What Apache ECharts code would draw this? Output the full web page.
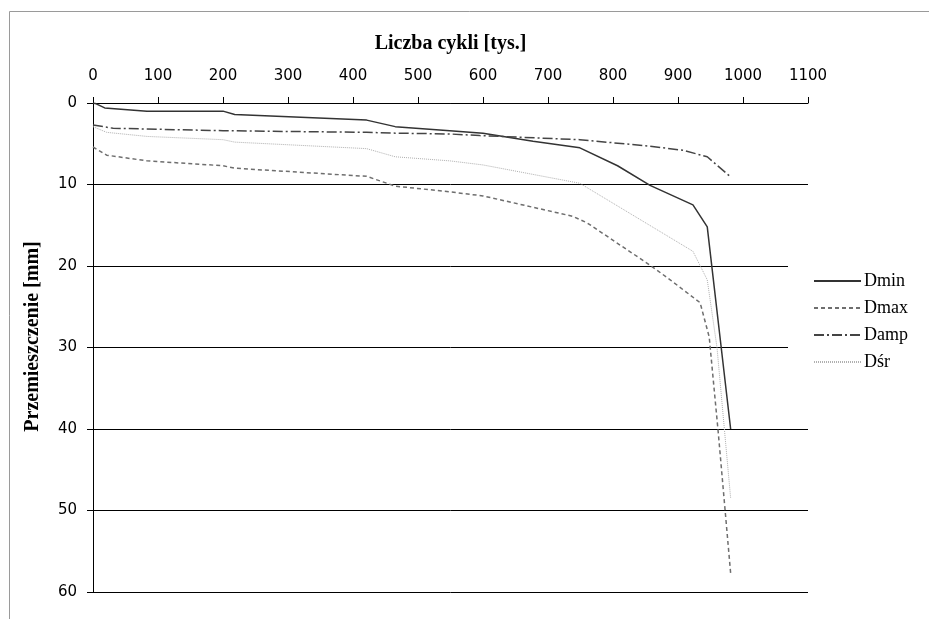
<!DOCTYPE html>
<html>
<head>
    <meta charset="utf-8">
    <title>Przemieszczenie</title>
    <script src="https://cdn.jsdelivr.net/npm/echarts@6/dist/echarts.min.js"></script>
</head>
<body style="margin:0;background:#fff;">
<div id="main" style="width: 929px;height:619px;"></div>
<script type="text/javascript">
    // dane (x w tys. cykli, y w mm)
    const dminX = [0, 5, 18, 83, 200, 218, 421, 465, 549, 600, 677, 749, 807, 857, 868, 923, 945, 981];
    const dminY = [0, 0.1, 0.6, 1.0, 1.0, 1.4, 2.1, 2.9, 3.4, 3.7, 4.7, 5.5, 7.7, 10.1, 10.5, 12.5, 15.2, 40.0];

    const dmaxX = [0, 21, 83, 200, 218, 421, 465, 549, 600, 738, 760, 857, 888, 934, 948, 962, 981];
    const dmaxY = [5.4, 6.4, 7.1, 7.7, 8.0, 9.0, 10.2, 10.9, 11.4, 13.9, 14.7, 19.9, 21.7, 24.5, 28.7, 40.5, 57.7];

    const dampX = [0, 31, 200, 421, 465, 549, 595, 749, 857, 908, 945, 980];
    const dampY = [2.7, 3.1, 3.4, 3.6, 3.7, 3.8, 4.0, 4.5, 5.3, 5.8, 6.6, 9.0];

    const dsrX = [0, 21, 83, 200, 218, 421, 465, 549, 600, 749, 923, 945, 960, 981];
    const dsrY = [2.9, 3.6, 4.1, 4.5, 4.8, 5.6, 6.6, 7.1, 7.6, 9.85, 18.2, 21.7, 30.0, 48.5];

    const seriesNames = ['Dmin', 'Dmax', 'Damp', 'Dśr'];

    function pairs(xs, ys) {
        return xs.map(function (x, i) { return [x, ys[i]]; });
    }

    const myChart = echarts.init(document.getElementById('main'));

    const serifFont = '"Liberation Serif", "Times New Roman", serif';
    const tickFont = '"DejaVu Sans", sans-serif';

    function line(name, data, color, width, type) {
        return {
            name: name,
            type: 'line',
            data: data,
            symbol: 'none',
            showSymbol: false,
            lineStyle: {color: color, width: width, type: type},
            itemStyle: {color: color},
            silent: true
        };
    }

    const option = {
        animation: false,
        backgroundColor: '#fff',
        graphic: [{
            type: 'rect',
            shape: {x: 9.5, y: 11.5, width: 1000, height: 700},
            style: {fill: 'none', stroke: '#9a9a9a', lineWidth: 1},
            z: -10
        }],
        grid: {left: 93, top: 103, width: 715, height: 489},
        legend: {
            orient: 'vertical',
            left: 788,
            top: 262,
            padding: [10, 20, 10, 25],
            backgroundColor: '#fff',
            itemWidth: 47,
            itemHeight: 14,
            itemGap: 9,
            // bez znacznika w legendzie, tylko sama linia
            itemStyle: {color: 'rgba(0,0,0,0)', borderWidth: 0, opacity: 0},
            textStyle: {fontFamily: serifFont, fontSize: 18, color: '#000', lineHeight: 18, padding: [0, 0, 0, -2]},
            data: seriesNames
        },
        xAxis: {
            type: 'value',
            position: 'top',
            min: 0,
            max: 1100,
            interval: 100,
            name: 'Liczba cykli [tys.]',
            nameLocation: 'middle',
            nameGap: 49,
            nameTextStyle: {fontFamily: serifFont, fontSize: 20, fontWeight: 'bold', color: '#000'},
            axisLine: {show: true, onZero: false, lineStyle: {color: '#000', width: 1}},
            axisTick: {show: true, inside: false, length: 6, lineStyle: {color: '#000'}},
            axisLabel: {fontFamily: tickFont, fontSize: 15, color: '#000', margin: 19, formatter: function (v) { return String(v); }},
            splitLine: {show: false}
        },
        yAxis: {
            type: 'value',
            inverse: true,
            min: 0,
            max: 60,
            interval: 10,
            name: 'Przemieszczenie [mm]',
            nameLocation: 'middle',
            nameGap: 50,
            nameRotate: 90,
            nameTextStyle: {fontFamily: serifFont, fontSize: 20, fontWeight: 'bold', color: '#000', padding: [0, 0, 0, 22]},
            axisLine: {show: true, onZero: false, lineStyle: {color: '#000', width: 1}},
            axisTick: {show: true, inside: false, length: 6, lineStyle: {color: '#000'}},
            axisLabel: {fontFamily: tickFont, fontSize: 15, color: '#000', margin: 16},
            splitLine: {show: true, lineStyle: {color: '#000', width: 1}}
        },
        series: [
            line('Dmin', pairs(dminX, dminY), '#333', 1.5, 'solid'),
            line('Dmax', pairs(dmaxX, dmaxY), '#6e6e6e', 1.5, [4, 3]),
            line('Damp', pairs(dampX, dampY), '#444', 1.5, [10, 3, 2, 3]),
            line('Dśr', pairs(dsrX, dsrY), '#b0b0b0', 1, [1, 1])
        ]
    };

    myChart.setOption(option);
</script>
</body>
</html>
